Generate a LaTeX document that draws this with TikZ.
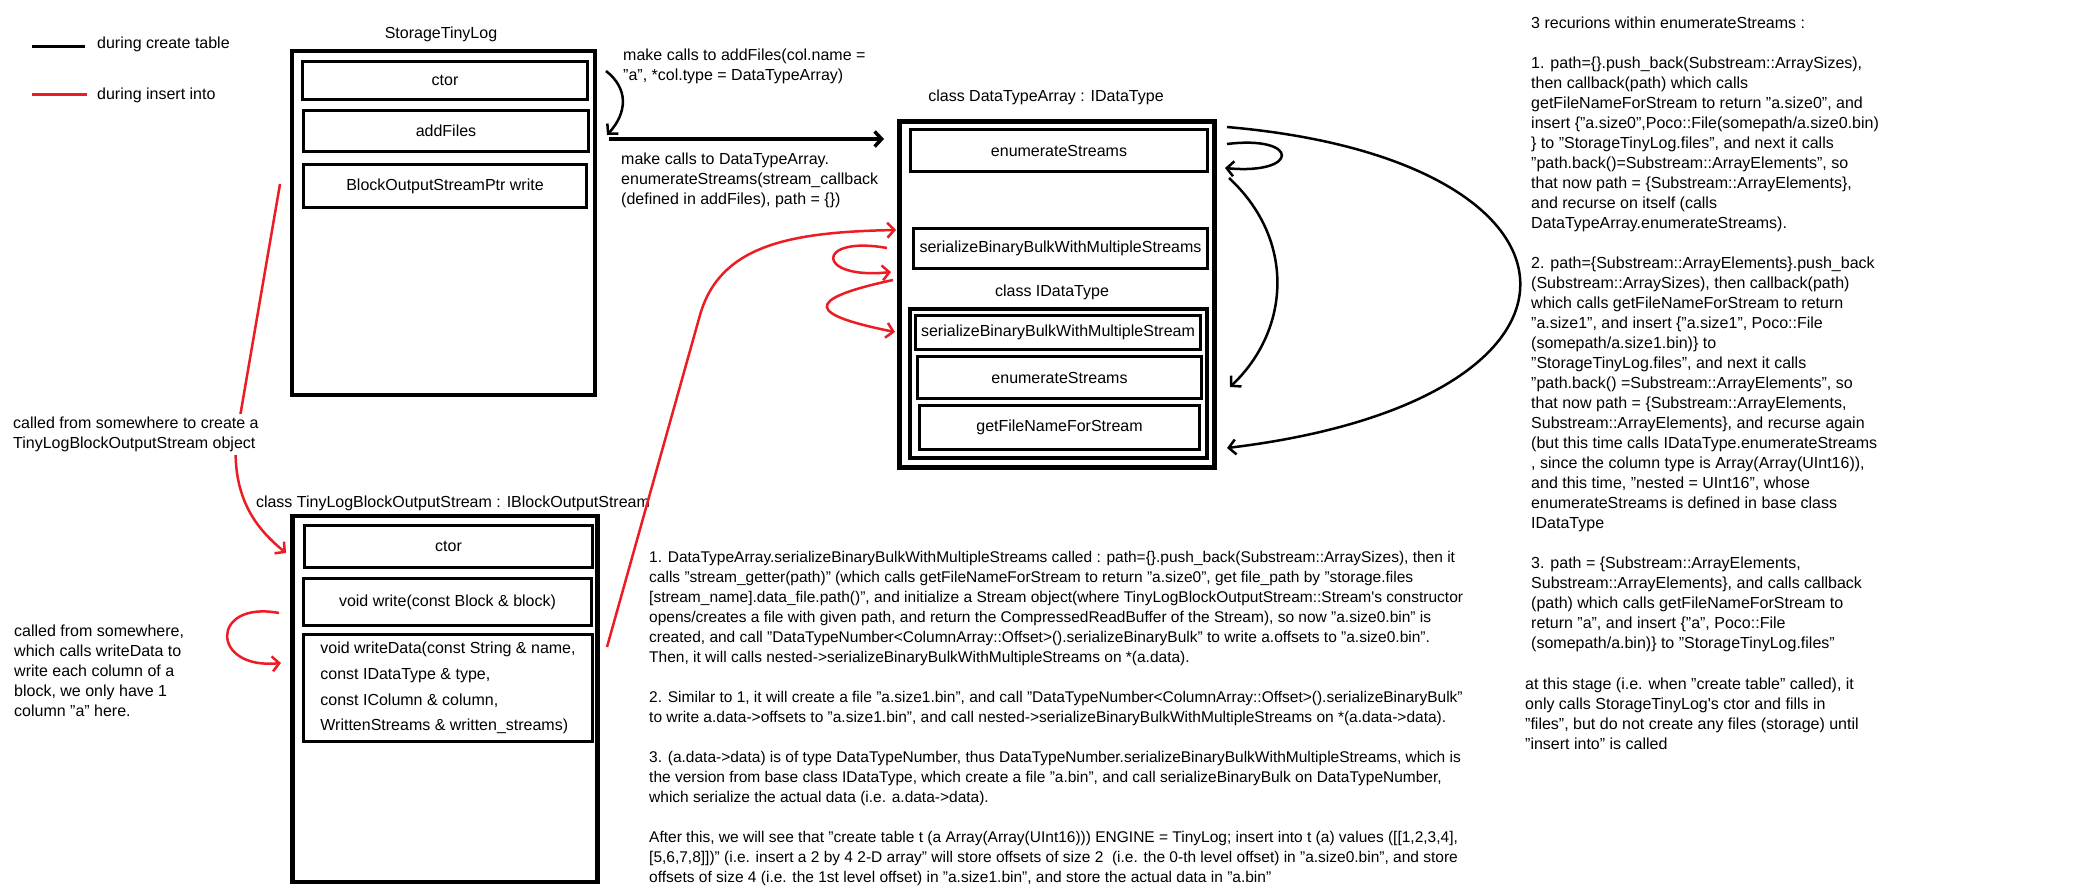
\documentclass[tikz,border=0pt]{standalone}
\usepackage{fontspec}
\setmainfont{Liberation Sans}
\usetikzlibrary{arrows.meta}
\definecolor{pred}{HTML}{ED1C24}
\begin{document}
\begin{tikzpicture}[x=1pt,y=-1pt,
  every node/.style={inner sep=0pt, font=\fontsize{16}{20}\selectfont},
  outerbox/.style={draw, line width=4.5pt},
  fbox/.style={draw, line width=3pt},
  txt/.style={anchor=north west, align=left},
  btxt/.style={anchor=north west, align=left, font=\fontsize{15.5}{20}\selectfont},
  blk/.style={line width=2.5pt, -{Straight Barb[length=7pt,width=15pt]}},
  rd/.style={pred, line width=2.5pt, -{Straight Barb[length=7pt,width=15pt]}},
]
\useasboundingbox (0,0) rectangle (2092,895);
\fill[white] (0,0) rectangle (2092,895);

% legend
\coordinate (lg1a) at (32,46); \coordinate (lg1b) at (85,46);
\coordinate (lg2a) at (32,94); \coordinate (lg2b) at (87,94);
\draw[line width=3pt] (lg1a) -- (lg1b);
\draw[pred, line width=3pt] (lg2a) -- (lg2b);
\node[anchor=west] (lgt1) at (97,44) {during create table};
\node[anchor=west] (lgt2) at (97,95) {during insert into};

% StorageTinyLog
\node (stlT) at (441,34) {StorageTinyLog};
\node[outerbox, minimum width=303pt, minimum height=344pt] (stl) at (443.5,223) {};
\node[fbox, minimum width=285pt, minimum height=38pt] (ctorS) at (445,80.5) {ctor};
\node[fbox, minimum width=285pt, minimum height=41pt] (addF) at (446,131) {addFiles};
\node[fbox, minimum width=283pt, minimum height=43pt] (writeS) at (445,186) {BlockOutputStreamPtr write};

% DataTypeArray
\node (dtaT) at (1046,97) {class DataTypeArray : IDataType};
\node[draw, line width=5pt, minimum width=315pt, minimum height=346pt] (dta) at (1057,294.5) {};
\node[fbox, minimum width=297pt, minimum height=42pt] (enumA) at (1059,150.5) {enumerateStreams};
\node[fbox, minimum width=294pt, minimum height=40pt] (serA) at (1060.5,248.5) {serializeBinaryBulkWithMultipleStreams};
\node (idtT) at (1052,292) {class IDataType};
\node[draw, line width=4pt, minimum width=297pt, minimum height=149pt] (idt) at (1058.5,383.5) {};
\node[fbox, minimum width=285pt, minimum height=34pt] (serI) at (1058,332.5) {serializeBinaryBulkWithMultipleStream};
\node[fbox, minimum width=284pt, minimum height=42pt] (enumI) at (1059.5,377.5) {enumerateStreams};
\node[fbox, minimum width=280pt, minimum height=44pt] (getF) at (1059.5,427.5) {getFileNameForStream};

% TinyLogBlockOutputStream
\node (tlT) at (453,503) {class TinyLogBlockOutputStream : IBlockOutputStream};
\node[outerbox, minimum width=305pt, minimum height=366pt] (tl) at (445,699) {};
\node[fbox, minimum width=288pt, minimum height=42pt] (ctorT) at (448.5,546.5) {ctor};
\node[fbox, minimum width=288pt, minimum height=47pt] (writeT) at (447.5,602) {void write(const Block \& block)};
\node[fbox, minimum width=289pt, minimum height=107pt, align=left, font=\fontsize{16}{25.7}\selectfont] (wdT) at (448,688)
  {void writeData(const String \& name,\\const IDataType \& type,\\const IColumn \& column,\\WrittenStreams \& written\_streams)};

% black connectors
\coordinate (a1s) at (606,71); \coordinate (a1e) at (607,135);
\draw[blk] (a1s) .. controls (628,88) and (628,112) .. (a1e);
\coordinate (h1) at (609,139); \coordinate (h2) at (884,139);
\draw[line width=3.5pt, -{Straight Barb[length=7pt,width=15pt]}] (h1) -- (h2);
\coordinate (l1s) at (1227,144); \coordinate (l1e) at (1225,168);
\draw[blk] (l1s) .. controls (1300,135) and (1300,175) .. (l1e);
\coordinate (l2s) at (1229,178); \coordinate (l2e) at (1230,387);
\draw[blk] (l2s) .. controls (1296,240) and (1290,330) .. (l2e);
\coordinate (l3s) at (1227,127); \coordinate (l3e) at (1227,448);
\draw[blk] (l3s) .. controls (1610,160) and (1625,400) .. (l3e);

% red connectors
\coordinate (r1s) at (280,184); \coordinate (r1e) at (286,553);
\draw[rd] (r1s) -- (236,440) .. controls (232,500) and (258,530) .. (r1e);
\coordinate (r2s) at (279,613); \coordinate (r2e) at (281,663);
\draw[rd] (r2s) .. controls (210,600) and (210,670) .. (r2e);
\coordinate (r3s) at (607,647); \coordinate (r3m) at (700,315); \coordinate (r3e) at (896,230);
\draw[rd] (r3s) -- (r3m) .. controls (720,245) and (790,232) .. (r3e);
\coordinate (r4s) at (887,248); \coordinate (r4e) at (891,272);
\draw[rd] (r4s) .. controls (815,235) and (815,280) .. (r4e);
\coordinate (r5s) at (893,280); \coordinate (r5e) at (895,332);
\draw[rd] (r5s) .. controls (800,300) and (810,315) .. (r5e);

% texts
\node[txt] (tAdd) at (623,49) {make calls to addFiles(col.name =\\"a", *col.type = DataTypeArray)};
\node[txt] (tEnum) at (621,153) {make calls to DataTypeArray.\\enumerateStreams(stream\_callback\\(defined in addFiles), path = \{\})};
\node[txt, fill=white, inner sep=3pt] (tCreate) at (10,414) {called from somewhere to create a\\TinyLogBlockOutputStream object};
\node[txt] (tWrite) at (14,625) {called from somewhere,\\which calls writeData to\\write each column of a\\block, we only have 1\\column "a" here.};

\node[txt] (tRec) at (1531,17) {3 recurions within enumerateStreams :\\[20pt]
1. path=\{\}.push\_back(Substream::ArraySizes),\\
then callback(path) which calls\\
getFileNameForStream to return "a.size0", and\\
insert \{"a.size0",Poco::File(somepath/a.size0.bin)\\
\} to "StorageTinyLog.files", and next it calls\\
"path.back()=Substream::ArrayElements", so\\
that now path = \{Substream::ArrayElements\},\\
and recurse on itself (calls\\
DataTypeArray.enumerateStreams).\\[20pt]
2. path=\{Substream::ArrayElements\}.push\_back\\
(Substream::ArraySizes), then callback(path)\\
which calls getFileNameForStream to return\\
"a.size1", and insert \{"a.size1", Poco::File\\
(somepath/a.size1.bin)\} to\\
"StorageTinyLog.files", and next it calls\\
"path.back() =Substream::ArrayElements", so\\
that now path = \{Substream::ArrayElements,\\
Substream::ArrayElements\}, and recurse again\\
(but this time calls IDataType.enumerateStreams\\
, since the column type is Array(Array(UInt16)),\\
and this time, "nested = UInt16", whose\\
enumerateStreams is defined in base class\\
IDataType\\[20pt]
3. path = \{Substream::ArrayElements,\\
Substream::ArrayElements\}, and calls callback\\
(path) which calls getFileNameForStream to\\
return "a", and insert \{"a", Poco::File\\
(somepath/a.bin)\} to "StorageTinyLog.files"};

\node[txt] (tStage) at (1525,678) {at this stage (i.e. when "create table" called), it\\
only calls StorageTinyLog\textquotesingle s ctor and fills in\\
"files", but do not create any files (storage) until\\
"insert into" is called};

\node[btxt] (tSer) at (649,551) {1. DataTypeArray.serializeBinaryBulkWithMultipleStreams called : path=\{\}.push\_back(Substream::ArraySizes), then it\\
calls "stream\_getter(path)" (which calls getFileNameForStream to return "a.size0", get file\_path by "storage.files\\
{[}stream\_name].data\_file.path()", and initialize a Stream object(where TinyLogBlockOutputStream::Stream\textquotesingle s constructor\\
opens/creates a file with given path, and return the CompressedReadBuffer of the Stream), so now "a.size0.bin" is\\
created, and call "DataTypeNumber<ColumnArray::Offset>().serializeBinaryBulk" to write a.offsets to "a.size0.bin".\\
Then, it will calls nested->serializeBinaryBulkWithMultipleStreams on *(a.data).\\[20pt]
2. Similar to 1, it will create a file "a.size1.bin", and call "DataTypeNumber<ColumnArray::Offset>().serializeBinaryBulk"\\
to write a.data->offsets to "a.size1.bin", and call nested->serializeBinaryBulkWithMultipleStreams on *(a.data->data).\\[20pt]
3. (a.data->data) is of type DataTypeNumber, thus DataTypeNumber.serializeBinaryBulkWithMultipleStreams, which is\\
the version from base class IDataType, which create a file "a.bin", and call serializeBinaryBulk on DataTypeNumber,\\
which serialize the actual data (i.e. a.data->data).\\[20pt]
After this, we will see that "create table t (a Array(Array(UInt16))) ENGINE = TinyLog; insert into t (a) values ({[}{[}1,2,3,4],\\
{[}5,6,7,8]])" (i.e. insert a 2 by 4 2-D array" will store offsets of size 2 \ (i.e. the 0-th level offset) in "a.size0.bin", and store\\
offsets of size 4 (i.e. the 1st level offset) in "a.size1.bin", and store the actual data in "a.bin"};
\end{tikzpicture}
\end{document}
